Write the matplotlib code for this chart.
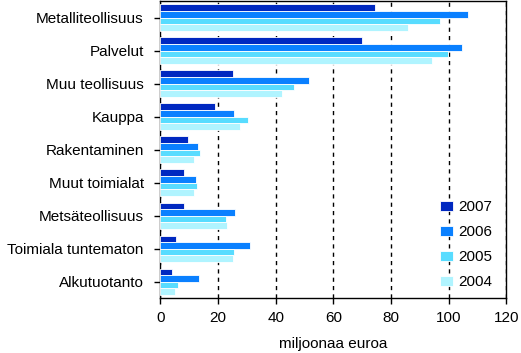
import matplotlib
matplotlib.use("Agg")
import matplotlib.pyplot as plt
import numpy as np

plt.rcParams['font.family'] = ['Liberation Sans', 'DejaVu Sans']

categories = ["Metalliteollisuus", "Palvelut", "Muu teollisuus", "Kauppa",
              "Rakentaminen", "Muut toimialat", "Metsäteollisuus",
              "Toimiala tuntematon", "Alkutuotanto"]
years = ["2007", "2006", "2005", "2004"]
v2007 = [74.4, 69.9, 25.1, 18.9, 9.5, 8.2, 8.2, 5.4, 4.0]
v2006 = [106.7, 104.6, 51.5, 25.5, 13.0, 12.3, 25.8, 31.0, 13.4]
v2005 = [96.9, 99.7, 46.3, 30.3, 13.7, 12.7, 22.7, 25.5, 6.1]
v2004 = [85.8, 94.2, 42.1, 27.6, 11.6, 11.6, 23.1, 25.1, 5.0]
series = [v2007, v2006, v2005, v2004]
colors = ["#0028c0", "#0a80ff", "#58dcff", "#b0f4ff"]
xticks = [0, 20, 40, 60, 80, 100, 120]

fig = plt.figure(figsize=(5.21, 3.53), dpi=100)
ax = fig.add_axes([0.308, 0.155, 0.664, 0.842])

y = np.arange(len(categories))
h = 0.2
for k, (vals, c, lab) in enumerate(zip(series, colors, years)):
    ax.barh(y - 0.3 + k * h, vals, height=h, color=c, edgecolor="white",
            linewidth=0.6, label=lab, zorder=3)

ax.set_ylim(len(categories) - 0.5, -0.5)
ax.set_xlim(0, 120)
ax.set_yticks(y)
ax.set_yticklabels(categories, fontsize=11)
ax.set_xticks(xticks)
ax.set_xticklabels([str(t) for t in xticks], fontsize=11)
ax.tick_params(axis='both', direction='out', length=4, width=1, color='black')
ax.tick_params(axis='y', pad=8)
ax.tick_params(axis='x', pad=5)
ax.xaxis.grid(True, linestyle=(0, (3, 3)), color='black', linewidth=1, zorder=0)
ax.set_axisbelow(True)
for s in ax.spines.values():
    s.set_color('black')
    s.set_linewidth(1)
ax.set_xlabel("miljoonaa euroa", fontsize=11, labelpad=9)

leg = ax.legend(loc='lower right', frameon=False, fontsize=11,
                handlelength=0.9, handleheight=0.6, labelspacing=0.72,
                handletextpad=0.3, borderaxespad=0.2,
                bbox_to_anchor=(0.985, 0.0))
fig.savefig("out.png", dpi=100, facecolor="white")
